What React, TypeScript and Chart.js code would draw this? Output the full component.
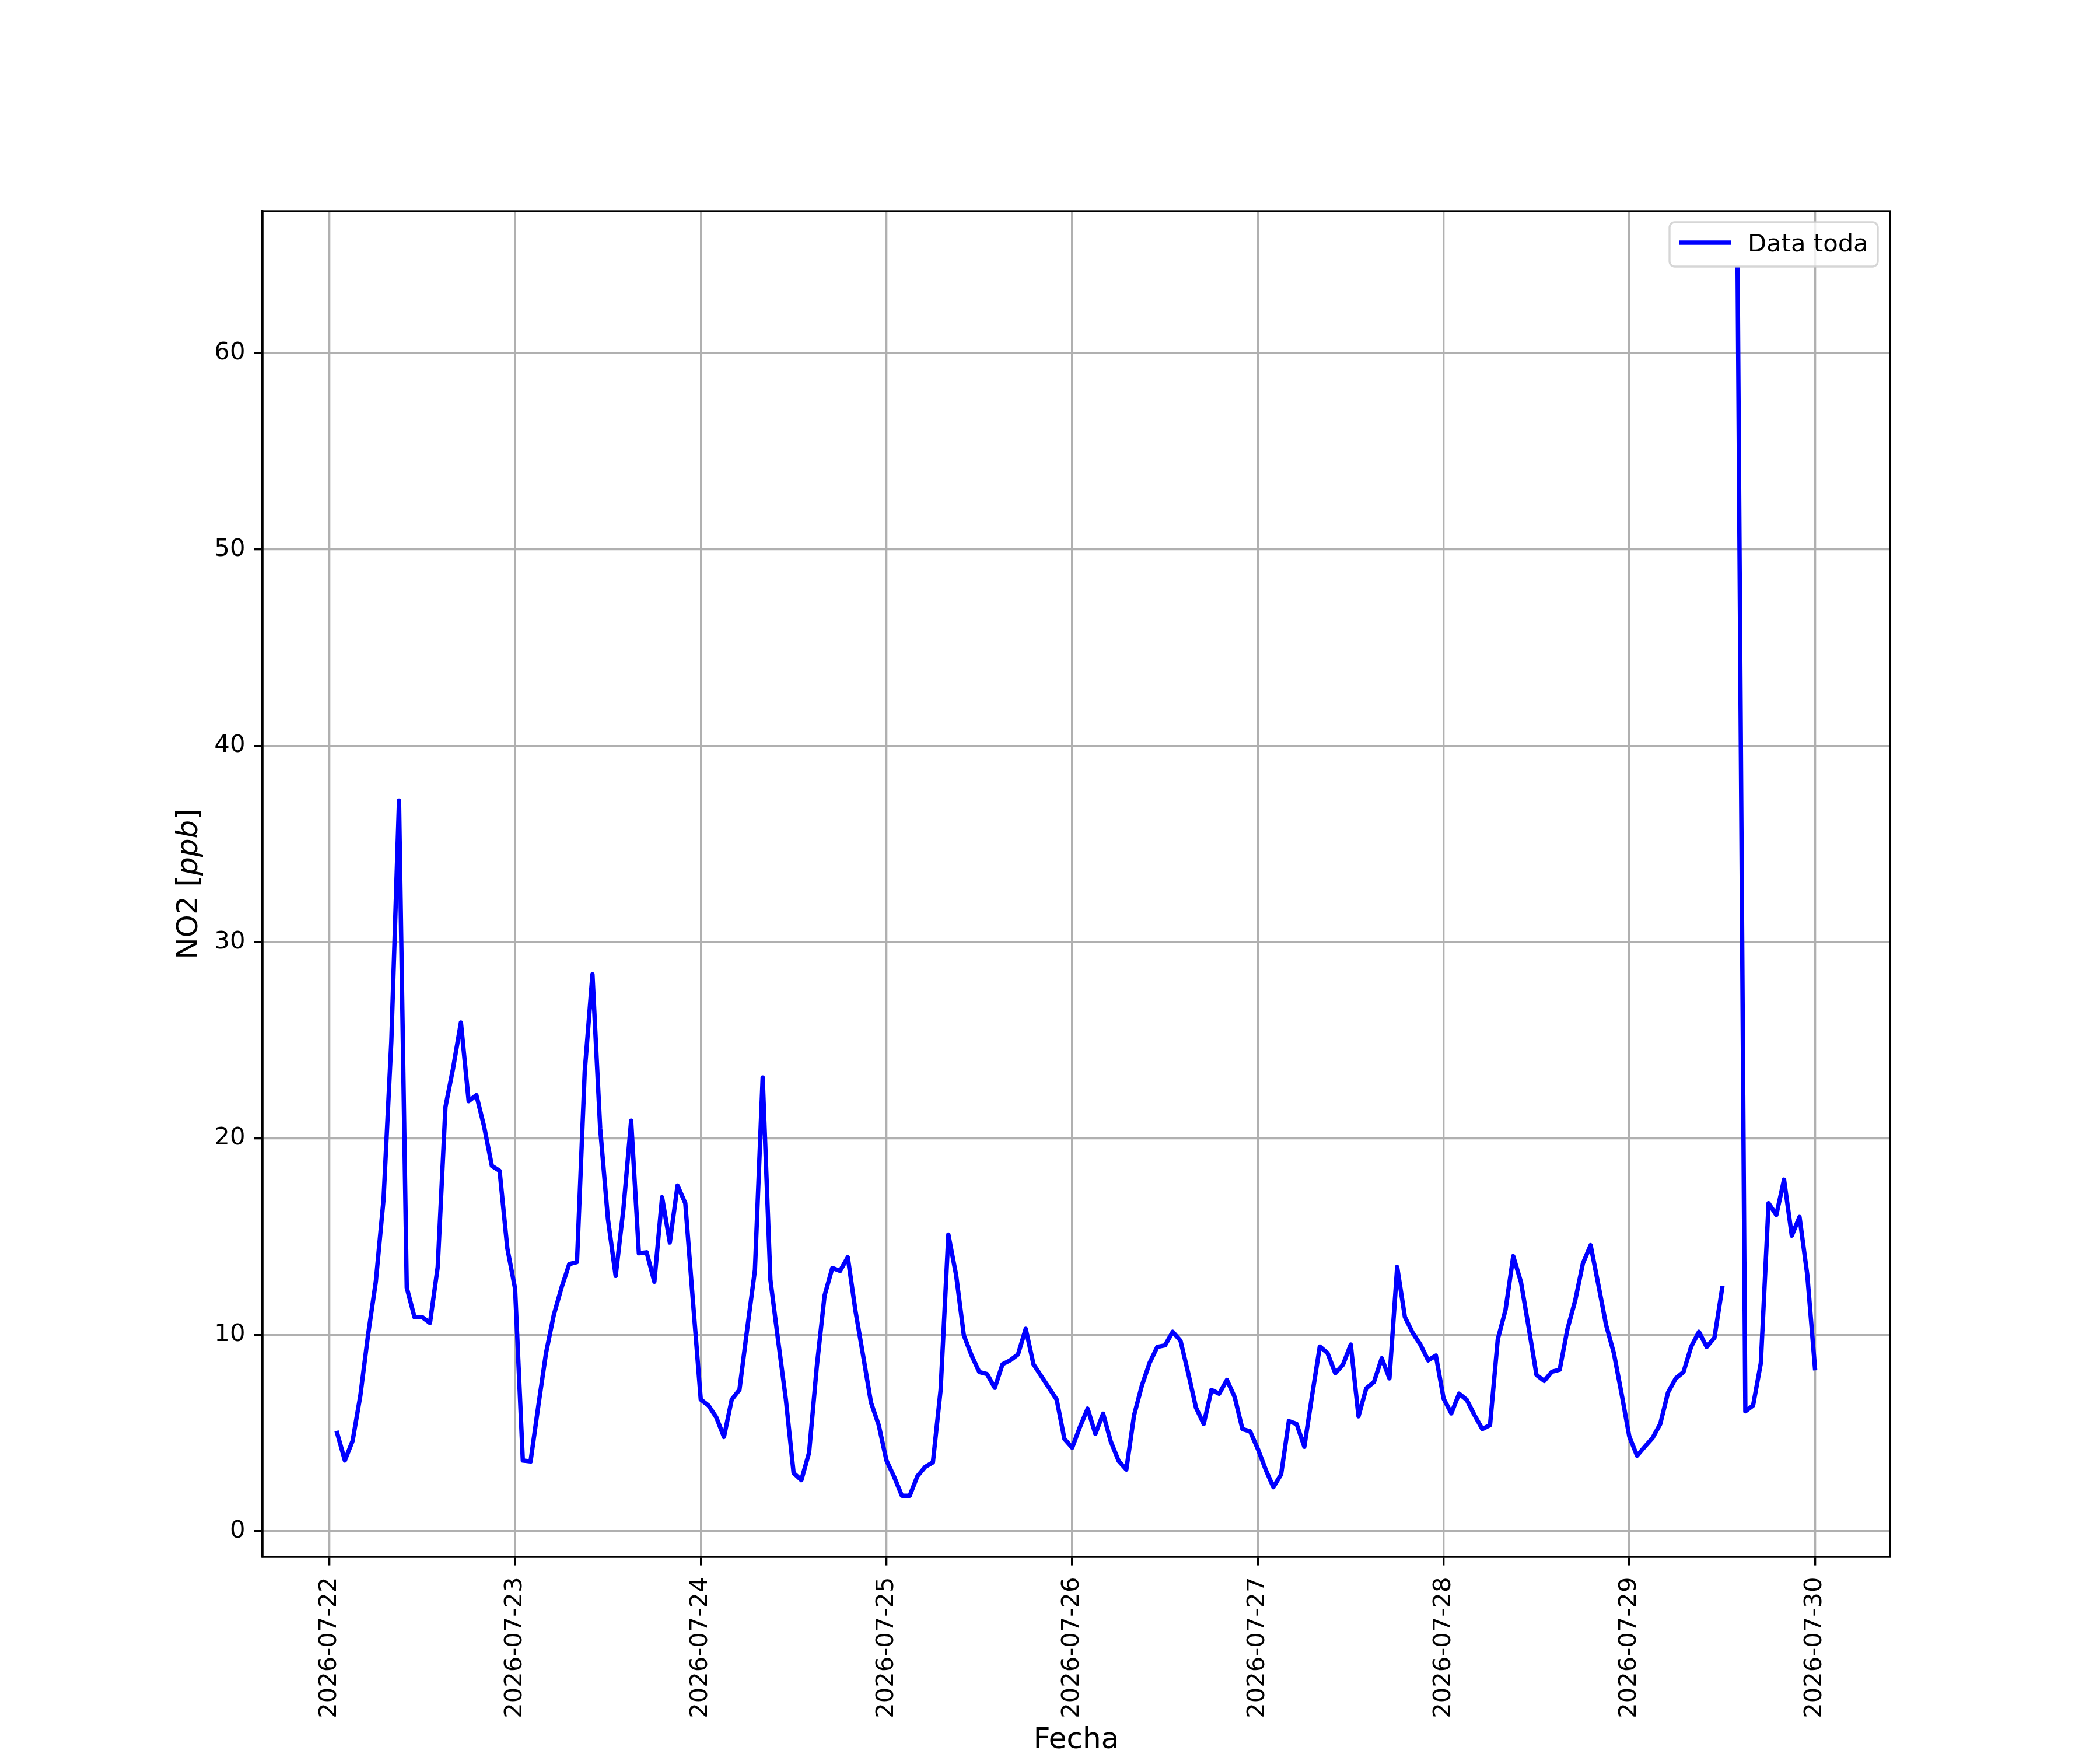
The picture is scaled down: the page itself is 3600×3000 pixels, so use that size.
import { useEffect, useRef } from "react";
import { Chart, registerables } from "chart.js";

Chart.register(...registerables);

// NO2 horario en ppb, de 01:00 a 24:00 (00:00 del día siguiente)
const dia22 = [5.0, 3.6, 4.6, 6.9, 10.0, 12.7, 16.9, 24.9, 37.2, 12.4, 10.9, 10.9, 10.6, 13.45, 21.6, 23.6, 25.9, 21.9, 22.2, 20.6, 18.6, 18.35, 14.4, 12.35];
const dia23 = [3.6, 3.55, 6.37, 9.07, 11.0, 12.4, 13.6, 13.7, 23.4, 28.35, 20.5, 15.9, 13.0, 16.4, 20.9, 14.15, 14.2, 12.7, 17.0, 14.7, 17.6, 16.7, 11.65, 6.7];
const dia24 = [6.4, 5.8, 4.8, 6.7, 7.2, 10.3, 13.3, 23.1, 12.8, 9.7, 6.7, 2.96, 2.6, 4.0, 8.4, 12.0, 13.4, 13.25, 13.95, 11.2, 8.9, 6.55, 5.4, 3.6];
const dia25 = [2.76, 1.8, 1.8, 2.8, 3.27, 3.5, 7.2, 15.1, 13.05, 9.97, 8.95, 8.1, 8.0, 7.3, 8.5, 8.7, 9.0, 10.3, 8.5, 7.9, 7.3, 6.7, 4.7, 4.25];
const dia26 = [5.3, 6.24, 4.95, 5.98, 4.56, 3.58, 3.14, 5.9, 7.4, 8.56, 9.38, 9.46, 10.15, 9.7, 8.04, 6.29, 5.46, 7.19, 7.0, 7.7, 6.83, 5.2, 5.08, 4.18];
const dia27 = [3.14, 2.24, 2.89, 5.6, 5.46, 4.3, 6.9, 9.4, 9.07, 8.04, 8.48, 9.5, 5.85, 7.27, 7.6, 8.8, 7.78, 13.45, 10.9, 10.1, 9.5, 8.7, 8.94, 6.75];
const dia28 = [6.0, 7.0, 6.68, 5.9, 5.2, 5.4, 9.77, 11.26, 14.0, 12.68, 10.36, 7.96, 7.65, 8.12, 8.22, 10.28, 11.73, 13.63, 14.56, 12.55, 10.5, 9.07, 7.0, 4.82];
const dia29 = [3.84, 4.3, 4.74, 5.46, 7.06, 7.78, 8.1, 9.4, 10.15, 9.38, 9.85, 12.37, null, 64.3, 6.1, 6.4, 8.56, 16.7, 16.1, 17.9, 15.05, 16.0, 13.07, 8.3];

const valores: (number | null)[] = [...dia22, ...dia23, ...dia24, ...dia25, ...dia26, ...dia27, ...dia28, ...dia29];
// horas desde 2026-07-22 00:00
const horas = valores.map((_, i) => i + 1);

const fechas = ["2026-07-22", "2026-07-23", "2026-07-24", "2026-07-25", "2026-07-26", "2026-07-27", "2026-07-28", "2026-07-29", "2026-07-30"];
const yTicks = [0, 10, 20, 30, 40, 50, 60];

const FONT = '"DejaVu Sans", sans-serif';
const LW = 3.33;
const LINEA = 7.5;

// marco, leyenda y títulos de ejes al estilo matplotlib
const decoracion = {
  id: "decoracion",
  afterDraw(chart: any) {
    const { ctx, chartArea: a } = chart;
    ctx.save();

    ctx.strokeStyle = "#000";
    ctx.lineWidth = LW;
    ctx.strokeRect(a.left, a.top, a.right - a.left, a.bottom - a.top);

    // leyenda
    const ds = chart.data.datasets[0];
    const bx = a.right - 378, by = a.top + 19, bw = 357, bh = 76;
    ctx.beginPath();
    ctx.roundRect(bx, by, bw, bh, 9);
    ctx.fillStyle = "rgba(255,255,255,0.8)";
    ctx.fill();
    ctx.strokeStyle = "rgba(204,204,204,0.8)";
    ctx.lineWidth = LW;
    ctx.stroke();
    ctx.beginPath();
    ctx.moveTo(bx + 16, by + 35);
    ctx.lineTo(bx + 105, by + 35);
    ctx.strokeStyle = ds.borderColor;
    ctx.lineWidth = LINEA;
    ctx.lineCap = "butt";
    ctx.stroke();
    ctx.fillStyle = "#000";
    ctx.font = `41.7px ${FONT}`;
    ctx.textAlign = "left";
    ctx.textBaseline = "alphabetic";
    ctx.fillText(ds.label, bx + 134, by + 50);

    // título eje x
    ctx.font = `50px ${FONT}`;
    ctx.textAlign = "center";
    ctx.fillText("Fecha", (a.left + a.right) / 2, 2997);

    // título eje y con ppb en cursiva
    const partes: [string, string][] = [["NO2 [", "normal"], ["ppb", "italic"], ["]", "normal"]];
    ctx.translate(338, (a.top + a.bottom) / 2);
    ctx.rotate(-Math.PI / 2);
    ctx.textAlign = "left";
    let total = 0;
    for (const [t, s] of partes) {
      ctx.font = `${s} 50px ${FONT}`;
      total += ctx.measureText(t).width;
    }
    let x = -total / 2;
    for (const [t, s] of partes) {
      ctx.font = `${s} 50px ${FONT}`;
      ctx.fillText(t, x, 0);
      x += ctx.measureText(t).width;
    }
    ctx.restore();
  },
};

export default function App() {
  const chartRef = useRef<HTMLCanvasElement>(null);
  const chartInstance = useRef<Chart | null>(null);

  useEffect(() => {
    if (!chartRef.current) return;
    if (chartInstance.current) chartInstance.current.destroy();

    const ctx = chartRef.current.getContext("2d");
    if (!ctx) return;

    Chart.defaults.font.family = FONT;
    Chart.defaults.color = "#000";

    const grid = {
      color: "#b0b0b0",
      lineWidth: LW,
      tickColor: "#000",
      tickWidth: LW,
      tickLength: 14.6,
    };

    chartInstance.current = new Chart(ctx, {
      type: "line",
      data: {
        datasets: [
          {
            label: "Data toda",
            data: valores.map((v, i) => ({ x: horas[i], y: v })),
            borderColor: "#0000ff",
            borderWidth: LINEA,
            borderJoinStyle: "round",
            borderCapStyle: "square",
            pointRadius: 0,
            tension: 0,
            spanGaps: false,
            fill: false,
          },
        ],
      },
      options: {
        responsive: false,
        animation: false,
        devicePixelRatio: 1,
        layout: { padding: { top: 362, right: 360, left: 0, bottom: 0 } },
        plugins: {
          legend: { display: false },
          tooltip: { enabled: false },
        },
        scales: {
          x: {
            type: "linear",
            min: -8.65,
            max: 201.7,
            grid,
            border: { color: "#000", width: LW },
            afterFit: (s: any) => {
              s.height = 331;
            },
            afterBuildTicks: (s: any) => {
              s.ticks = fechas.map((_, i) => ({ value: i * 24 }));
            },
            ticks: {
              autoSkip: false,
              minRotation: 90,
              maxRotation: 90,
              padding: 20,
              font: { size: 41.7 },
              callback: (_v: any, i: number) => fechas[i],
            },
          },
          y: {
            type: "linear",
            min: -1.31,
            max: 67.22,
            grid,
            border: { color: "#000", width: LW },
            afterFit: (s: any) => {
              s.width = 450;
            },
            afterBuildTicks: (s: any) => {
              s.ticks = yTicks.map((v) => ({ value: v }));
            },
            ticks: {
              padding: 15,
              font: { size: 41.7 },
              callback: (v: any) => String(v),
            },
          },
        },
      },
      plugins: [decoracion],
    });

    return () => {
      if (chartInstance.current) {
        chartInstance.current.destroy();
        chartInstance.current = null;
      }
    };
  }, []);

  return (
    <div style={{ position: "absolute", left: 0, top: 0, width: 3600, height: 3000, background: "#fff" }}>
      <canvas ref={chartRef} width={3600} height={3000} style={{ width: 3600, height: 3000 }}></canvas>
    </div>
  );
}
